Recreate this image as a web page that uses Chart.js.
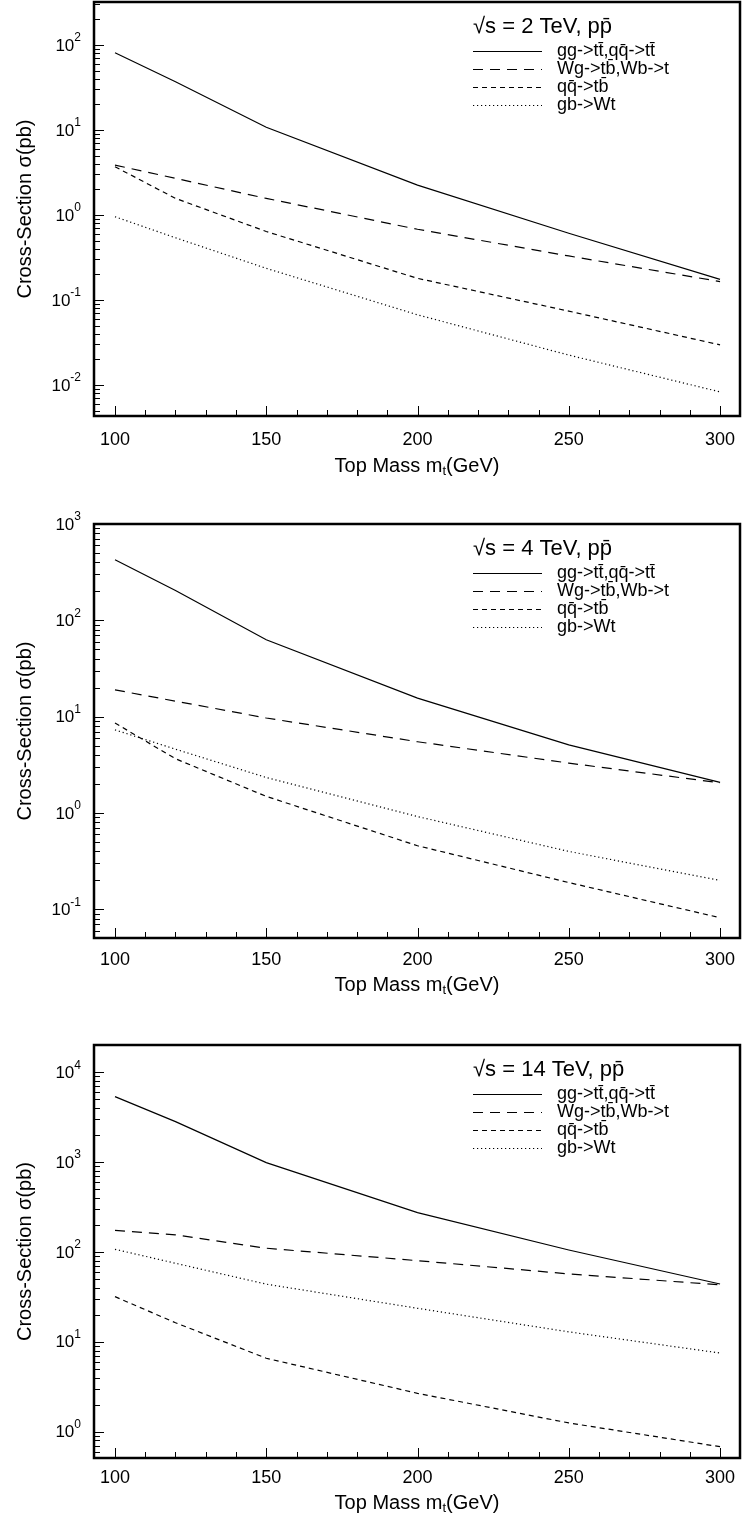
<!DOCTYPE html>
<html>
<head>
<meta charset="utf-8">
<script src="https://cdn.jsdelivr.net/npm/chart.js@4.4.1/dist/chart.umd.min.js"></script>
<style>
    body { margin: 0; background: #fff; width: 742px; height: 1524px; position: relative; overflow: hidden; }
    .panel { position: absolute; left: 0; width: 742px; }
</style>
</head>
<body>
<div class="panel" style="top:0;height:500px"><canvas id="chart2"></canvas></div>
<div class="panel" style="top:510px;height:510px"><canvas id="chart4"></canvas></div>
<div class="panel" style="top:1020px;height:504px"><canvas id="chart14"></canvas></div>
<script>
// Top mass values (GeV)
const masses = [100, 120, 150, 200, 250, 300];

// sqrt(s) = 2 TeV
const tt2 = [81, 37, 10.8, 2.25, 0.61, 0.175];
const wg2 = [3.87, 2.7, 1.57, 0.68, 0.33, 0.165];
const qq2 = [3.7, 1.57, 0.64, 0.18, 0.074, 0.0297];
const gb2 = [0.955, 0.54, 0.236, 0.067, 0.0225, 0.0083];

// sqrt(s) = 4 TeV
const tt4 = [425, 204, 62.8, 15.6, 5.1, 2.08];
const wg4 = [19, 14.5, 9.7, 5.5, 3.3, 2.06];
const qq4 = [8.6, 3.66, 1.49, 0.458, 0.19, 0.082];
const gb4 = [7.3, 4.6, 2.34, 0.92, 0.40, 0.20];

// sqrt(s) = 14 TeV
const tt14 = [5350, 2820, 986, 274, 105, 44];
const wg14 = [174, 155, 110, 80, 57, 43];
const qq14 = [31.8, 16.3, 6.56, 2.67, 1.25, 0.68];
const gb14 = [107, 74.8, 43.8, 23.6, 12.9, 7.5];

const processLabels = ['gg->tt\u0304,qq\u0304->tt\u0304', 'Wg->tb\u0304,Wb->t', 'qq\u0304->tb\u0304', 'gb->Wt'];
const xTickLabels = [100, 150, 200, 250, 300];
const xTitle = 'Top Mass m';
const yTitle = 'Cross-Section \u03c3(pb)';

const dashes = [[], [10, 7], [5, 4], [1.2, 2.8]];
const FONT = '"Liberation Sans", Arial, Helvetica, sans-serif';

// Frame, inner ticks, tick labels, titles and legend
const decor = {
    id: 'decor',
    afterDraw(chart, args, opts) {
        const ctx = chart.ctx;
        const a = chart.chartArea;
        const xs = chart.scales.x;
        const ys = chart.scales.y;
        ctx.save();
        ctx.strokeStyle = '#000';
        ctx.fillStyle = '#000';

        // x ticks every 10 GeV, longer at 50
        ctx.lineWidth = 1;
        ctx.beginPath();
        for (let m = 100; m <= 300; m += 10) {
            const px = Math.round(xs.getPixelForValue(m)) + 0.5;
            const len = m % 50 === 0 ? 10 : 6;
            ctx.moveTo(px, a.bottom);
            ctx.lineTo(px, a.bottom - len);
        }
        // y ticks, decades and 2..9
        const lo = Math.floor(Math.log10(ys.min));
        const hi = Math.ceil(Math.log10(ys.max));
        for (let e = lo; e <= hi; e++) {
            for (let k = 1; k <= 9; k++) {
                const v = k * Math.pow(10, e);
                if (v < ys.min || v > ys.max) continue;
                const py = Math.round(ys.getPixelForValue(v)) + 0.5;
                const len = k === 1 ? 10 : 6;
                ctx.moveTo(a.left, py);
                ctx.lineTo(a.left + len, py);
            }
        }
        ctx.stroke();

        // frame
        ctx.lineWidth = 2.5;
        ctx.strokeRect(a.left, a.top, a.right - a.left, a.bottom - a.top);

        // x tick labels
        ctx.font = '18px ' + FONT;
        ctx.textAlign = 'center';
        ctx.textBaseline = 'middle';
        xTickLabels.forEach(v => {
            ctx.fillText(String(v), xs.getPixelForValue(v), a.bottom + opts.labelOff);
        });

        // y tick labels as 10 with superscript exponent
        opts.expos.forEach(e => {
            const py = ys.getPixelForValue(Math.pow(10, e));
            ctx.font = '12px ' + FONT;
            ctx.textAlign = 'right';
            ctx.textBaseline = 'middle';
            const ew = ctx.measureText(String(e)).width;
            ctx.fillText(String(e).replace('-', '\u2011'), 81, py - 7);
            ctx.font = '17px ' + FONT;
            ctx.fillText('10', 81 - ew, py + 1);
        });

        // x title with subscript t
        ctx.font = '20px ' + FONT;
        ctx.textBaseline = 'middle';
        ctx.textAlign = 'left';
        const mainW = ctx.measureText(xTitle).width;
        ctx.font = '13px ' + FONT;
        const subW = ctx.measureText('t').width;
        ctx.font = '20px ' + FONT;
        const restW = ctx.measureText('(GeV)').width;
        const total = mainW + subW + restW;
        let tx = (a.left + a.right) / 2 - total / 2;
        const ty = a.bottom + opts.titleOff;
        ctx.fillText(xTitle, tx, ty);
        ctx.font = '13px ' + FONT;
        ctx.fillText('t', tx + mainW, ty + 5);
        ctx.font = '20px ' + FONT;
        ctx.fillText('(GeV)', tx + mainW + subW, ty);

        // y title
        ctx.save();
        ctx.translate(25, (a.top + a.bottom) / 2);
        ctx.rotate(-Math.PI / 2);
        ctx.textAlign = 'center';
        ctx.fillText(yTitle, 0, 0);
        ctx.restore();

        // legend
        ctx.font = '22px ' + FONT;
        ctx.textAlign = 'left';
        ctx.fillText(opts.energy, 473, a.top + 25);
        ctx.font = '18px ' + FONT;
        chart.data.datasets.forEach((ds, i) => {
            const ly = a.top + 49 + i * 18;
            ctx.lineWidth = ds.borderWidth;
            ctx.setLineDash(ds.borderDash);
            ctx.beginPath();
            ctx.moveTo(473, Math.round(ly) + 0.5);
            ctx.lineTo(542, Math.round(ly) + 0.5);
            ctx.stroke();
            ctx.setLineDash([]);
            ctx.fillText(ds.label, 557, ly);
        });
        ctx.restore();
    }
};

function makePanel(id, series, energy, yMin, yMax, expos, padTop, axisH, labelOff, titleOff) {
    const ctx = document.getElementById(id);
    return new Chart(ctx, {
        type: 'line',
        data: {
            datasets: series.map((s, i) => ({
                label: processLabels[i],
                data: masses.map((m, j) => ({ x: m, y: s[j] })),
                borderColor: '#000',
                borderWidth: 1.2,
                borderDash: dashes[i],
                pointRadius: 0,
                tension: 0,
                fill: false
            }))
        },
        options: {
            responsive: true,
            maintainAspectRatio: false,
            animation: false,
            layout: { padding: { top: padTop, right: 2, left: 0, bottom: 0 } },
            plugins: {
                legend: { display: false },
                tooltip: { enabled: false },
                decor: { energy: energy, expos: expos, labelOff: labelOff, titleOff: titleOff }
            },
            scales: {
                x: {
                    type: 'linear',
                    min: 93.06,
                    max: 306.6,
                    grid: { display: false },
                    border: { display: false },
                    ticks: { display: false },
                    afterFit: s => { s.height = axisH; }
                },
                y: {
                    type: 'logarithmic',
                    min: yMin,
                    max: yMax,
                    grid: { display: false },
                    border: { display: false },
                    ticks: { display: false },
                    afterFit: s => { s.width = 94; }
                }
            }
        },
        plugins: [decor]
    });
}

makePanel('chart2', [tt2, wg2, qq2, gb2], '\u221as = 2 TeV, pp\u0304', 0.00432, 321, [-2, -1, 0, 1, 2], 2, 84, 24, 50);
makePanel('chart4', [tt4, wg4, qq4, gb4], '\u221as = 4 TeV, pp\u0304', 0.0505, 1000, [-1, 0, 1, 2, 3], 14, 82, 22, 47);
makePanel('chart14', [tt14, wg14, qq14, gb14], '\u221as = 14 TeV, pp\u0304', 0.509, 20100, [0, 1, 2, 3, 4], 25, 66, 20, 45);
</script>
</body>
</html>
